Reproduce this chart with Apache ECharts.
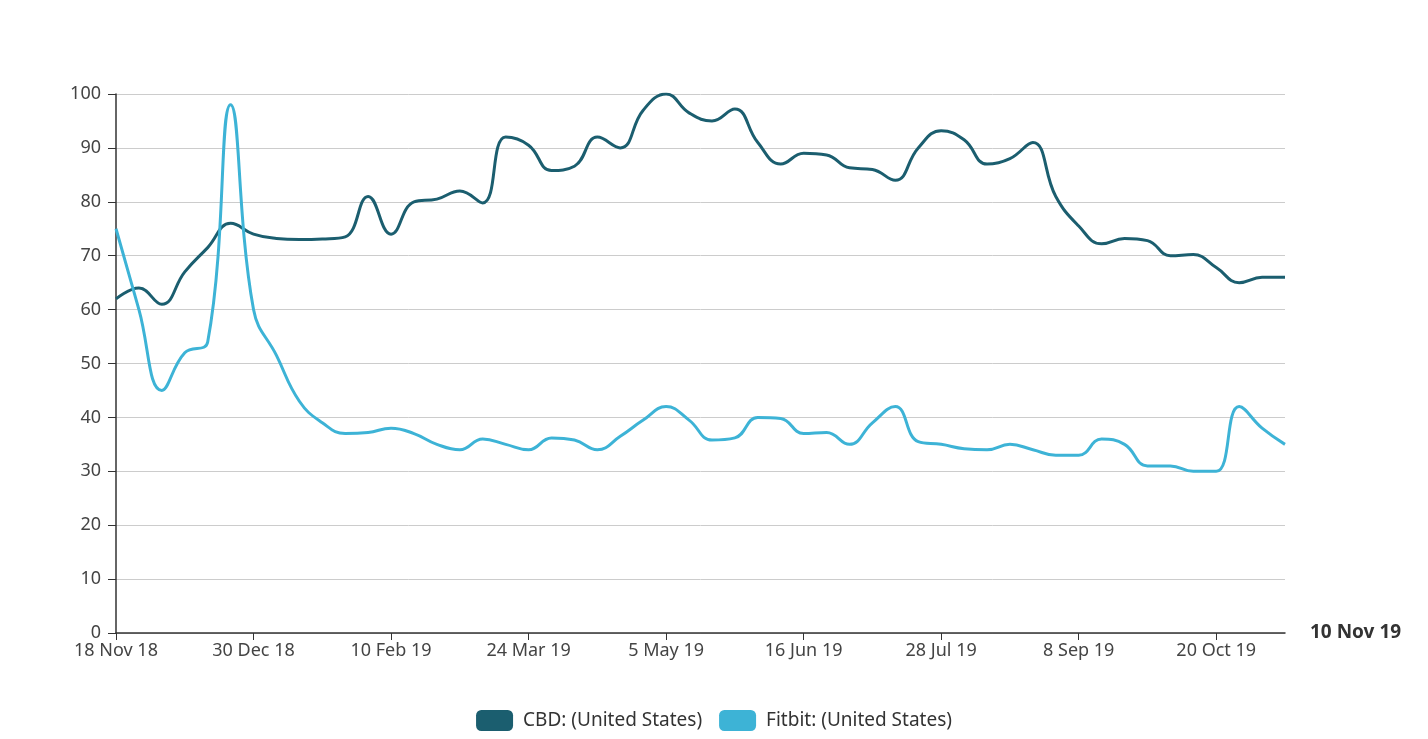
<!DOCTYPE html>
<html>
<head>
<meta charset="utf-8">
<script src="https://cdn.jsdelivr.net/npm/echarts@6/dist/echarts.min.js"></script>
<style>
html,body{margin:0;padding:0;background:#fff;}
#chart{width:1428px;height:739px;}
</style>
</head>
<body>
<div id="chart"></div>
<script>
var weeks = ['18 Nov 18','25 Nov 18','2 Dec 18','9 Dec 18','16 Dec 18','23 Dec 18','30 Dec 18',
  '6 Jan 19','13 Jan 19','20 Jan 19','27 Jan 19','3 Feb 19','10 Feb 19','17 Feb 19','24 Feb 19',
  '3 Mar 19','10 Mar 19','17 Mar 19','24 Mar 19','31 Mar 19','7 Apr 19','14 Apr 19','21 Apr 19',
  '28 Apr 19','5 May 19','12 May 19','19 May 19','26 May 19','2 Jun 19','9 Jun 19','16 Jun 19',
  '23 Jun 19','30 Jun 19','7 Jul 19','14 Jul 19','21 Jul 19','28 Jul 19','4 Aug 19','11 Aug 19',
  '18 Aug 19','25 Aug 19','1 Sep 19','8 Sep 19','15 Sep 19','22 Sep 19','29 Sep 19','6 Oct 19',
  '13 Oct 19','20 Oct 19','27 Oct 19','3 Nov 19','10 Nov 19'];
var cbd = [62,64,61,67,71.5,76,74,73.2,73,73.1,73.5,81,74,80,80.5,82,79.8,92,90.5,85.8,86.6,92,90,97,100,
  96.5,95,97.2,91,87,89,88.7,86.3,86,84,90,93.2,91.5,87,88,91,81,75.5,72.2,73.2,72.8,70,70.2,67.8,65,66,66];
var fitbit = [75,60,45,52,54,98,60,51.5,43,39,37,37.2,38,37,35,34,36,35,34,36.2,35.8,34,36.5,39.5,42,
  39.5,35.8,36.2,40,39.8,37,37.2,35,39,42,35.5,35,34.2,34,35,34,33,33,36,35,31,31,30,30,42,38,35];
var seriesNames = ['CBD: (United States)','Fitbit: (United States)'];
var colors = ['#1b5e6f','#3db3d6'];
var lastLabel = '10 Nov 19';

var chart = echarts.init(document.getElementById('chart'));
var font = '"Noto Sans", sans-serif';
chart.setOption({
  animation:false,
  color: colors,
  grid:{left:116,right:143,top:94,bottom:106,containLabel:false},
  legend:{
    bottom:3,left:'center',
    itemWidth:37,itemHeight:21,icon:'roundRect',itemGap:17,
    textStyle:{fontFamily:font,fontSize:19,color:'#333',padding:[0,0,0,5]},
    data:seriesNames
  },
  xAxis:{
    type:'category',boundaryGap:false,data:weeks,
    name:lastLabel,nameLocation:'end',nameGap:25,
    nameTextStyle:{fontFamily:font,fontSize:19,fontWeight:'bold',color:'#333'},
    axisLine:{lineStyle:{color:'#333',width:1.5}},
    axisTick:{interval:5,length:7,lineStyle:{color:'#333'}},
    axisLabel:{interval:5,fontFamily:font,fontSize:18,color:'#444',margin:9},
    splitLine:{show:false}
  },
  yAxis:{
    type:'value',min:0,max:100,interval:10,
    axisLine:{show:true,lineStyle:{color:'#333',width:1.5}},
    axisTick:{show:true,length:8,lineStyle:{color:'#333'}},
    axisLabel:{fontFamily:font,fontSize:18,color:'#444',margin:15},
    splitLine:{lineStyle:{color:'#cccccc',width:1}}
  },
  series:[
    {name:seriesNames[0],type:'line',data:cbd,smooth:0.45,showSymbol:false,lineStyle:{width:3,color:colors[0]},itemStyle:{color:colors[0]}},
    {name:seriesNames[1],type:'line',data:fitbit,smooth:0.45,showSymbol:false,lineStyle:{width:3,color:colors[1]},itemStyle:{color:colors[1]}}
  ]
});
</script>
</body>
</html>
